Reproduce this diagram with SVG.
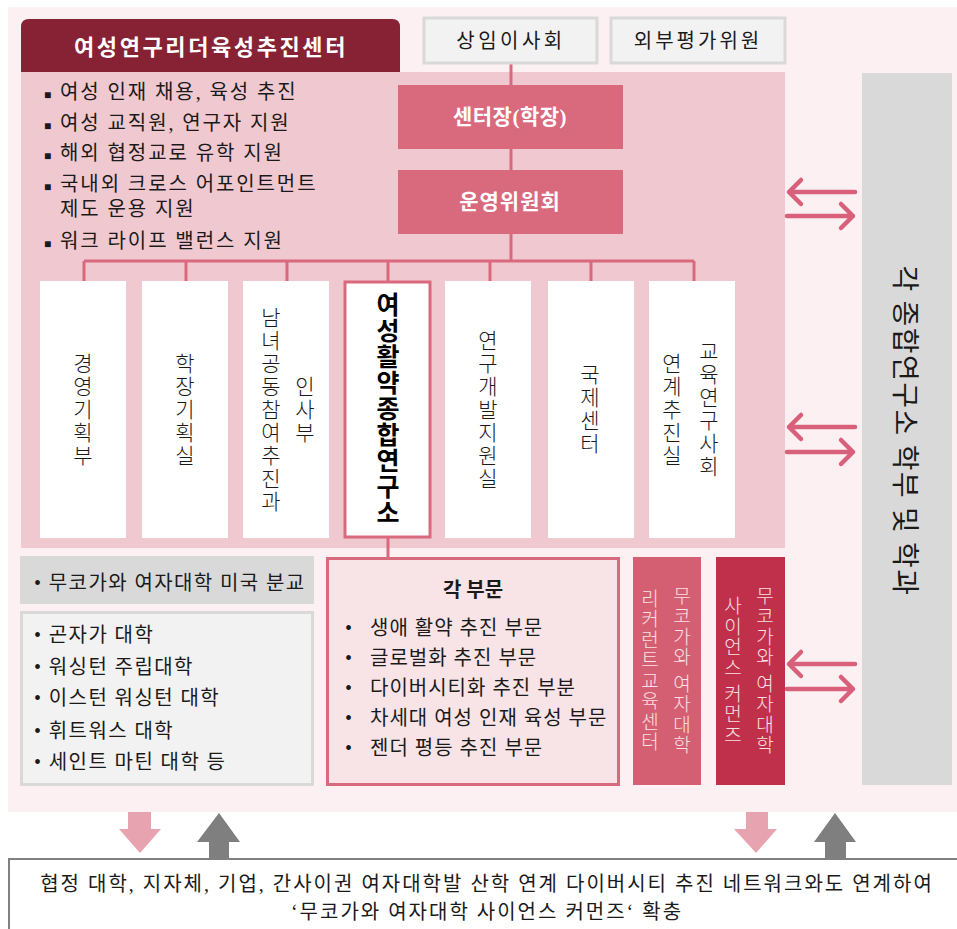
<svg xmlns="http://www.w3.org/2000/svg" width="957" height="929" viewBox="0 0 957 929">
<style>
text{font-family:"Liberation Serif","Noto Sans CJK KR",serif;fill:#1a1a1a}
.t20{font-size:20px}
.wb{fill:#fff;font-weight:bold}
.vt{writing-mode:vertical-rl;font-family:"Noto Sans CJK KR",sans-serif;font-size:21px;letter-spacing:2px;text-anchor:middle;font-weight:300}
.vtp{writing-mode:vertical-rl;font-family:"Noto Sans CJK KR",sans-serif;font-size:19px;letter-spacing:1.5px;text-anchor:middle;fill:#fbe0e5;font-weight:300}
.col{fill:#fff}
.conn{stroke:#d9697c;stroke-width:3;fill:none}
.arr{stroke:#d9607a;stroke-width:4.5;fill:none;stroke-linecap:round;stroke-linejoin:round}
.gbox{fill:#f2f2f2;stroke:#d9d9d9;stroke-width:3}
.node{fill:#d9697c}
.sq{font-size:12px}
</style>
<rect x="8" y="7" width="949" height="805" fill="#fcf0f2"/>
<rect x="21" y="72" width="764" height="476" fill="#f0c8d0"/>

<g id="header">
<path d="M21,72 V27 Q21,19 29,19 H392 Q400,19 400,27 V72 Z" fill="#862233"/>
<text x="211" y="55" class="wb" font-size="22" text-anchor="middle" letter-spacing="2.6" style="font-family:'Noto Sans CJK KR',sans-serif">여성연구리더육성추진센터</text>
</g>

<g id="mission" class="t20" letter-spacing="1.9">
<text x="44" y="99"><tspan class="sq">■</tspan> 여성 인재 채용, 육성 추진</text>
<text x="44" y="130"><tspan class="sq">■</tspan> 여성 교직원, 연구자 지원</text>
<text x="44" y="160"><tspan class="sq">■</tspan> 해외 협정교로 유학 지원</text>
<text x="44" y="191"><tspan class="sq">■</tspan> 국내외 크로스 어포인트먼트</text>
<text x="60" y="216">제도 운용 지원</text>
<text x="44" y="248"><tspan class="sq">■</tspan> 워크 라이프 밸런스 지원</text>
</g>

<g id="connectors">
<path class="conn" d="M511,63 V85 M511,149 V170 M511,234 V261 M84,261 H694 M84,261 V281 M186,261 V281 M287,261 V281 M388,261 V281 M490,261 V281 M591,261 V281 M694,261 V281 M388,538 V557"/>
<path class="arr" d="M855,192 H789 M801,180 L789,192 L801,204 M787,216 H853 M841,204 L853,216 L841,228"/>
<path class="arr" d="M855,427 H789 M801,415 L789,427 L801,439 M787,452 H853 M841,440 L853,452 L841,464"/>
<path class="arr" d="M855,664 H789 M801,652 L789,664 L801,676 M787,689 H853 M841,677 L853,689 L841,701"/>
<polygon points="128,812 151,812 151,829 161,829 140,853 119,829 128,829" fill="#e8a3b0"/>
<polygon points="219,813 240,842 229,842 229,858 209,858 209,842 197,842" fill="#7f7f7f"/>
<polygon points="746,812 768,812 768,829 777,829 756,853 734,829 746,829" fill="#e8a3b0"/>
<polygon points="835,813 856,842 846,842 846,858 825,858 825,842 814,842" fill="#7f7f7f"/>
</g>

<g id="board">
<rect x="424" y="18" width="173" height="45" class="gbox"/>
<text x="511" y="48" class="t20" text-anchor="middle" letter-spacing="3.5">상임이사회</text>
</g>
<g id="external">
<rect x="611" y="18" width="174" height="45" class="gbox"/>
<text x="698" y="48" class="t20" text-anchor="middle" letter-spacing="3">외부평가위원</text>
</g>
<g id="director">
<rect x="398" y="85" width="225" height="64" class="node"/>
<text x="510" y="124" class="wb" font-size="21" text-anchor="middle" letter-spacing="0.5">센터장(학장)</text>
</g>
<g id="committee">
<rect x="398" y="170" width="225" height="64" class="node"/>
<text x="510" y="209" class="wb" font-size="21" text-anchor="middle" letter-spacing="1">운영위원회</text>
</g>

<g id="dept1"><rect x="40" y="281" width="86" height="257" class="col"/><text x="83" y="410" class="vt">경영기획부</text></g>
<g id="dept2"><rect x="142" y="281" width="86" height="257" class="col"/><text x="185" y="410" class="vt">학장기획실</text></g>
<g id="dept3"><rect x="243" y="281" width="86" height="257" class="col"/><text x="305" y="410" class="vt">인사부</text><text x="271" y="410" class="vt">남녀공동참여추진과</text></g>
<g id="dept4"><rect x="345" y="282" width="85" height="255" fill="#fff" stroke="#d9697c" stroke-width="3"/><text x="388" y="409" class="vt" style="font-weight:bold;font-size:25px;letter-spacing:1px;fill:#000">여성활약종합연구소</text></g>
<g id="dept5"><rect x="445" y="281" width="86" height="257" class="col"/><text x="488" y="410" class="vt">연구개발지원실</text></g>
<g id="dept6"><rect x="548" y="281" width="86" height="257" class="col"/><text x="590" y="410" class="vt">국제센터</text></g>
<g id="dept7"><rect x="649" y="281" width="86" height="257" class="col"/><text x="709" y="410" class="vt">교육연구사회</text><text x="672" y="410" class="vt">연계추진실</text></g>

<g id="branch">
<rect x="20" y="556" width="294" height="48" fill="#d9d9d9"/>
<text x="34" y="590" class="t20" letter-spacing="1.4">• 무코가와 여자대학 미국 분교</text>
</g>
<g id="partners">
<rect x="21.5" y="612.5" width="291" height="172" class="gbox"/>
<text class="t20" letter-spacing="1.4"><tspan x="34" y="642">• 곤자가 대학</tspan><tspan x="34" y="674">• 워싱턴 주립대학</tspan><tspan x="34" y="705">• 이스턴 워싱턴 대학</tspan><tspan x="34" y="738">• 휘트워스 대학</tspan><tspan x="34" y="769">• 세인트 마틴 대학 등</tspan></text>
</g>
<g id="divisions">
<rect x="327.5" y="558.5" width="291" height="226" fill="#f8e3e6" stroke="#d9697c" stroke-width="3"/>
<text x="473" y="597" class="t20" font-weight="bold" text-anchor="middle" fill="#000">각 부문</text>
<text class="t20" letter-spacing="1"><tspan x="345" y="635">•</tspan><tspan x="370" y="635">생애 활약 추진 부문</tspan><tspan x="345" y="665">•</tspan><tspan x="370" y="665">글로벌화 추진 부문</tspan><tspan x="345" y="695">•</tspan><tspan x="370" y="695">다이버시티화 추진 부분</tspan><tspan x="345" y="725">•</tspan><tspan x="370" y="725">차세대 여성 인재 육성 부문</tspan><tspan x="345" y="755">•</tspan><tspan x="370" y="755">젠더 평등 추진 부문</tspan></text>
</g>
<g id="recurrent">
<rect x="633" y="557" width="68" height="228" fill="#d45f72"/>
<text x="682" y="671" class="vtp">무코가와 여자대학</text>
<text x="650" y="671" class="vtp">리커런트교육센터</text>
</g>
<g id="commons">
<rect x="716" y="557" width="69" height="228" fill="#c0304a"/>
<text x="765" y="671" class="vtp">무코가와 여자대학</text>
<text x="733" y="671" class="vtp">사이언스 커먼즈</text>
</g>
<g id="faculties">
<rect x="862" y="73" width="90" height="712" fill="#d9d9d9"/>
<text transform="translate(907,431) rotate(90)" text-anchor="middle" dominant-baseline="central" font-size="28" letter-spacing="1.5" fill="#000" style="font-family:'Noto Sans CJK KR',sans-serif">각 종합연구소 학부 및 학과</text>
</g>
<g id="network">
<rect x="9" y="859" width="950" height="72" fill="#fff" stroke="#808080" stroke-width="2"/>
<text x="487" y="891" class="t20" text-anchor="middle" letter-spacing="2">협정 대학, 지자체, 기업, 간사이권 여자대학발 산학 연계 다이버시티 추진 네트워크와도 연계하여</text>
<text x="487" y="919" class="t20" text-anchor="middle" letter-spacing="2">‘무코가와 여자대학 사이언스 커먼즈‘ 확충</text>
</g>
</svg>
